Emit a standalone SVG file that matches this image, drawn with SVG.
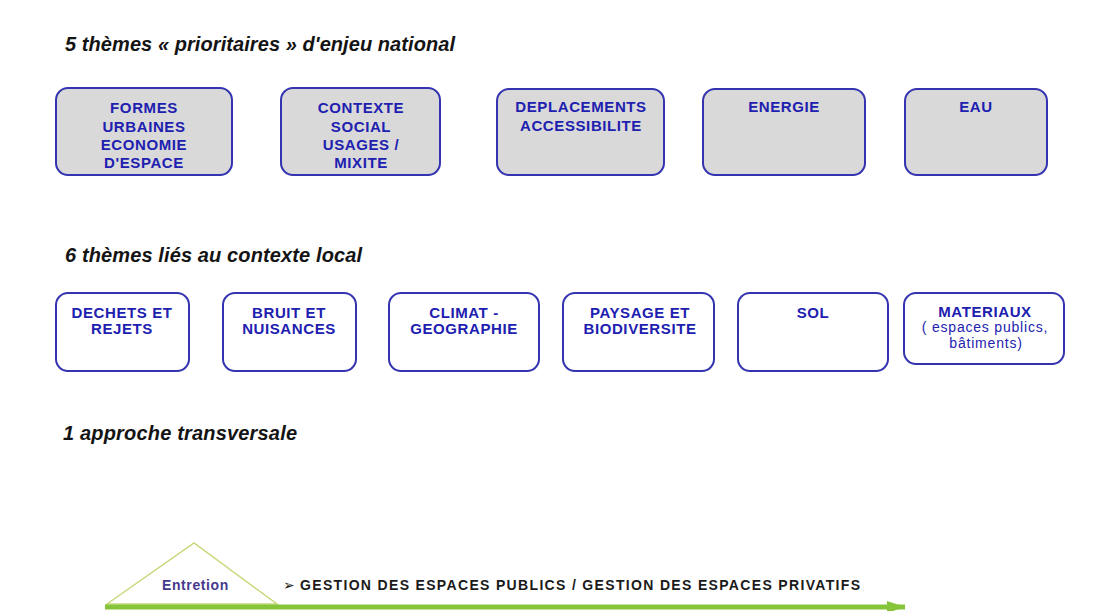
<svg xmlns="http://www.w3.org/2000/svg" width="1097" height="611" viewBox="0 0 1097 611">
<defs>
<style>
.title{font-family:"Liberation Sans",Arial,sans-serif;font-weight:bold;font-style:italic;font-size:20px;fill:#141414}
.box1{fill:#d9d9d9;stroke:#3434b0;stroke-width:2}
.box2{fill:#ffffff;stroke:#3434b0;stroke-width:2}
.lbl{font-family:"Liberation Sans",Arial,sans-serif;font-weight:bold;font-size:15px;fill:#2020b0;text-anchor:middle;letter-spacing:0.6px}
.sub{font-family:"Liberation Sans",Arial,sans-serif;font-size:14px;fill:#2323b0;text-anchor:middle;letter-spacing:0.8px}
.ent{font-family:"Liberation Sans",Arial,sans-serif;font-weight:bold;font-size:14px;fill:#463a8e;letter-spacing:0.6px}
.gest{font-family:"Liberation Sans","DejaVu Sans",Arial,sans-serif;font-weight:bold;font-size:14px;fill:#1a1a1a}
</style>
<marker id="ah" markerWidth="18" markerHeight="12" refX="18" refY="6" orient="auto" markerUnits="userSpaceOnUse">
<path d="M0,0 L18,6 L0,12 Z" fill="#86c43a"/>
</marker>
</defs>
<rect width="1097" height="611" fill="#ffffff"/>

<g id="headings">
<text class="title" x="65" y="51" textLength="390" lengthAdjust="spacing">5 thèmes « prioritaires » d'enjeu national</text>
<text class="title" x="65" y="262" textLength="297" lengthAdjust="spacing">6 thèmes liés au contexte local</text>
<text class="title" x="63" y="440" textLength="234" lengthAdjust="spacing">1 approche transversale</text>
</g>

<g id="formes">
<rect class="box1" x="56" y="88" width="176" height="87" rx="12"/>
<text class="lbl" x="144" y="113">FORMES</text>
<text class="lbl" x="144" y="131.5">URBAINES</text>
<text class="lbl" x="144" y="150">ECONOMIE</text>
<text class="lbl" x="144" y="168">D'ESPACE</text>
</g>
<g id="contexte">
<rect class="box1" x="281" y="88" width="159" height="87" rx="12"/>
<text class="lbl" x="361" y="113">CONTEXTE</text>
<text class="lbl" x="361" y="131.5">SOCIAL</text>
<text class="lbl" x="361" y="150">USAGES /</text>
<text class="lbl" x="361" y="168">MIXITE</text>
</g>
<g id="deplacements">
<rect class="box1" x="497" y="89" width="167" height="86" rx="12"/>
<text class="lbl" x="581" y="112">DEPLACEMENTS</text>
<text class="lbl" x="581" y="131">ACCESSIBILITE</text>
</g>
<g id="energie">
<rect class="box1" x="703" y="89" width="162" height="86" rx="12"/>
<text class="lbl" x="784" y="112">ENERGIE</text>
</g>
<g id="eau">
<rect class="box1" x="905" y="89" width="142" height="86" rx="12"/>
<text class="lbl" x="976" y="112">EAU</text>
</g>

<g id="dechets">
<rect class="box2" x="56" y="293" width="133" height="78" rx="12"/>
<text class="lbl" x="122" y="318">DECHETS ET</text>
<text class="lbl" x="122" y="334">REJETS</text>
</g>
<g id="bruit">
<rect class="box2" x="223" y="293" width="133" height="78" rx="12"/>
<text class="lbl" x="289" y="318">BRUIT ET</text>
<text class="lbl" x="289" y="334">NUISANCES</text>
</g>
<g id="climat">
<rect class="box2" x="389" y="293" width="150" height="78" rx="12"/>
<text class="lbl" x="464" y="318">CLIMAT -</text>
<text class="lbl" x="464" y="334">GEOGRAPHIE</text>
</g>
<g id="paysage">
<rect class="box2" x="563" y="293" width="151" height="78" rx="12"/>
<text class="lbl" x="640" y="318">PAYSAGE ET</text>
<text class="lbl" x="640" y="334">BIODIVERSITE</text>
</g>
<g id="sol">
<rect class="box2" x="738" y="293" width="150" height="78" rx="12"/>
<text class="lbl" x="813" y="318">SOL</text>
</g>
<g id="materiaux">
<rect class="box2" x="904" y="293" width="160" height="71" rx="12"/>
<text class="lbl" x="985" y="317">MATERIAUX</text>
<text class="sub" x="985" y="332">( espaces publics,</text>
<text class="sub" x="986" y="348">bâtiments)</text>
</g>

<g id="entretien">
<polygon points="107,604 194,543 277,604" fill="none" stroke="#c9d77a" stroke-width="1.5"/>
<text class="ent" x="162" y="590">Entretion</text>
</g>

<g id="connectors">
<line x1="105" y1="607" x2="905" y2="607" stroke="#86c43a" stroke-width="5" marker-end="url(#ah)"/>
</g>

<g id="gestion">
<text class="gest" y="590"><tspan x="283">➢</tspan><tspan x="300" textLength="560" lengthAdjust="spacing">GESTION DES ESPACES PUBLICS / GESTION DES ESPACES PRIVATIFS</tspan></text>
</g>
</svg>
